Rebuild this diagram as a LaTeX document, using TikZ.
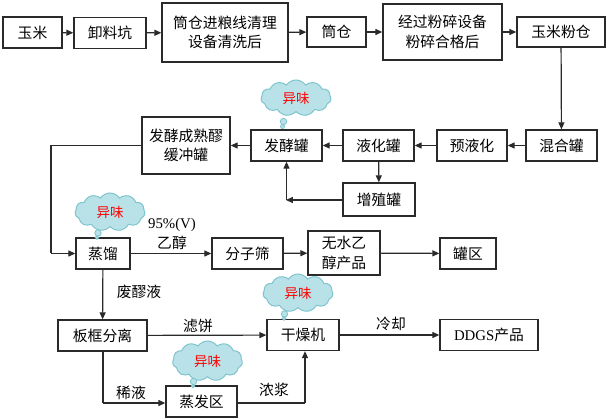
\documentclass[tikz,border=0pt]{standalone}
\usepackage{fontspec}
\setmainfont{Liberation Serif}
\newfontfamily\cjk{Noto Sans CJK SC}
\usetikzlibrary{arrows.meta,shapes.symbols}
\definecolor{lineclr}{HTML}{2A2A2A}
\definecolor{cloudfill}{HTML}{B9E2E8}
\definecolor{clouddraw}{HTML}{7EC4CE}
\tikzset{
  pbox/.style={draw=lineclr,line width=1.3pt,inner sep=0pt,align=center,
    font=\cjk\fontsize{14.8}{19.5}\selectfont,fill=white},
  flow/.style={draw=lineclr,line width=1.2pt,-{Triangle[length=7pt,width=6pt]}},
  plain/.style={draw=lineclr,line width=1.2pt},
  lbl/.style={inner sep=0pt,font=\cjk\fontsize{14.8}{18}\selectfont},
  odor/.style={cloud,cloud puffs=11,cloud puff arc=110,aspect=1.8,inner sep=0pt,
    fill=cloudfill,draw=clouddraw,line width=1pt,text=red,
    font=\cjk\fontsize{13.5}{15}\selectfont},
  puff/.style={fill=cloudfill,draw=clouddraw,line width=0.8pt}
}
\newcommand{\mybox}[5]{\node[pbox,minimum width=#3pt,minimum height=#4pt] (#1) at #2 {#5};}
\begin{document}
\begin{tikzpicture}[x=1pt,y=-1pt]
\useasboundingbox (0,0) rectangle (607,419);
% row 1
\mybox{yumi}{(32.5,32.5)}{59}{31}{玉米}
\mybox{xieliao}{(110,33)}{72}{31}{卸料坑}
\mybox{tcj}{(225,32.5)}{126}{59}{筒仓进粮线清理\\设备清洗后}
\mybox{tc}{(336.5,32)}{59}{30}{筒仓}
\mybox{jg}{(442.5,32)}{119}{56}{经过粉碎设备\\粉碎合格后}
\mybox{ymf}{(561,32)}{88}{30}{玉米粉仓}
% row 2
\mybox{hh}{(561.5,145.5)}{71}{31}{混合罐}
\mybox{yyh}{(472,145.5)}{70}{31}{预液化}
\mybox{yh}{(378.5,145.5)}{71}{31}{液化罐}
\mybox{fj}{(286.5,145.5)}{71}{31}{发酵罐}
\mybox{hc}{(186,145.5)}{88}{57}{发酵成熟醪\\缓冲罐}
\mybox{zz}{(379,199.5)}{72}{33}{增殖罐}
% row 3
\mybox{zl}{(103,253.5)}{54}{31}{蒸馏}
\mybox{fz}{(247.5,253.5)}{71}{31}{分子筛}
\mybox{ws}{(344,253)}{72}{44}{无水乙\\醇产品}
\mybox{gq}{(468,253.5)}{56}{31}{罐区}
% row 4
\mybox{bk}{(102.5,335.5)}{89}{31}{板框分离}
\mybox{gz}{(303,335)}{72}{31}{干燥机}
\mybox{dd}{(489,335)}{98}{31}{{\rmfamily DDGS}产品}
% row 5
\mybox{zf}{(201.5,401.5)}{71}{31}{蒸发区}
% coordinates
\coordinate (k1) at (51,145.5);
\coordinate (k2) at (51,253.5);
\coordinate (k3) at (286.5,200);
\coordinate (k4) at (103,403);
\coordinate (k5) at (305,403);
% connectors row 1
\draw[flow] (yumi) -- (xieliao);
\draw[flow] (xieliao) -- (tcj);
\draw[flow] (tcj) -- (tc);
\draw[flow] (tc) -- (jg);
\draw[flow] (jg) -- (ymf);
\draw[flow] (ymf) -- (hh);
% row 2
\draw[flow] (hh) -- (yyh);
\draw[flow] (yyh) -- (yh);
\draw[flow] (yh) -- (fj);
\draw[flow] (fj) -- (hc);
\draw[flow] (yh) -- (zz);
\draw[flow] (zz.west |- k3) -- ([xshift=-0.6pt]k3);
\draw[flow] (k3) -- (fj.south -| k3);
\draw[plain] (hc.west) -- (k1) -- (k2);
\draw[flow] (k2) -- (zl.west);
% row 3
\draw[flow] (zl) -- (fz);
\draw[flow] (fz) -- (ws);
\draw[flow] (ws) -- (gq);
\draw[flow] (zl) -- (bk);
% row 4
\draw[flow] (bk) -- (gz);
\draw[flow] (gz) -- (dd);
\draw[plain] (bk.south -| k4) -- (k4);
\draw[flow] (k4) -- (zf.west |- k4);
\draw[plain] (zf.east |- k5) -- (k5);
\draw[flow] (k5) -- (gz.south -| k5);
% labels
\node[lbl,font=\rmfamily\fontsize{14.8}{18}\selectfont] (l1) at (172,225) {95\%(V)};
\node[lbl] (l2) at (172,243) {乙醇};
\node[lbl] (l3) at (139,292) {废醪液};
\node[lbl] (l4) at (198,326) {滤饼};
\node[lbl] (l5) at (391,324) {冷却};
\node[lbl] (l6) at (131,393) {稀液};
\node[lbl] (l7) at (274,390) {浓浆};
% clouds
\node[odor,minimum width=70pt,minimum height=36pt] (c1) at (296,98) {异味};
\filldraw[puff] (283.5,121.5) circle (3.2pt);
\filldraw[puff] (282.5,126.5) circle (2pt);
\node[odor,minimum width=70pt,minimum height=38pt] (c2) at (110,212) {异味};
\filldraw[puff] (98,233) circle (3.2pt);
\filldraw[puff] (97,237.5) circle (1.8pt);
\node[odor,minimum width=70pt,minimum height=38pt] (c3) at (298,293) {异味};
\filldraw[puff] (284.5,314) circle (3.2pt);
\filldraw[puff] (284,318.5) circle (1.8pt);
\node[odor,minimum width=70pt,minimum height=40pt] (c4) at (207.5,361) {异味};
\filldraw[puff] (193.5,381.5) circle (3.2pt);
\filldraw[puff] (193,386) circle (1.8pt);
\end{tikzpicture}
\end{document}
